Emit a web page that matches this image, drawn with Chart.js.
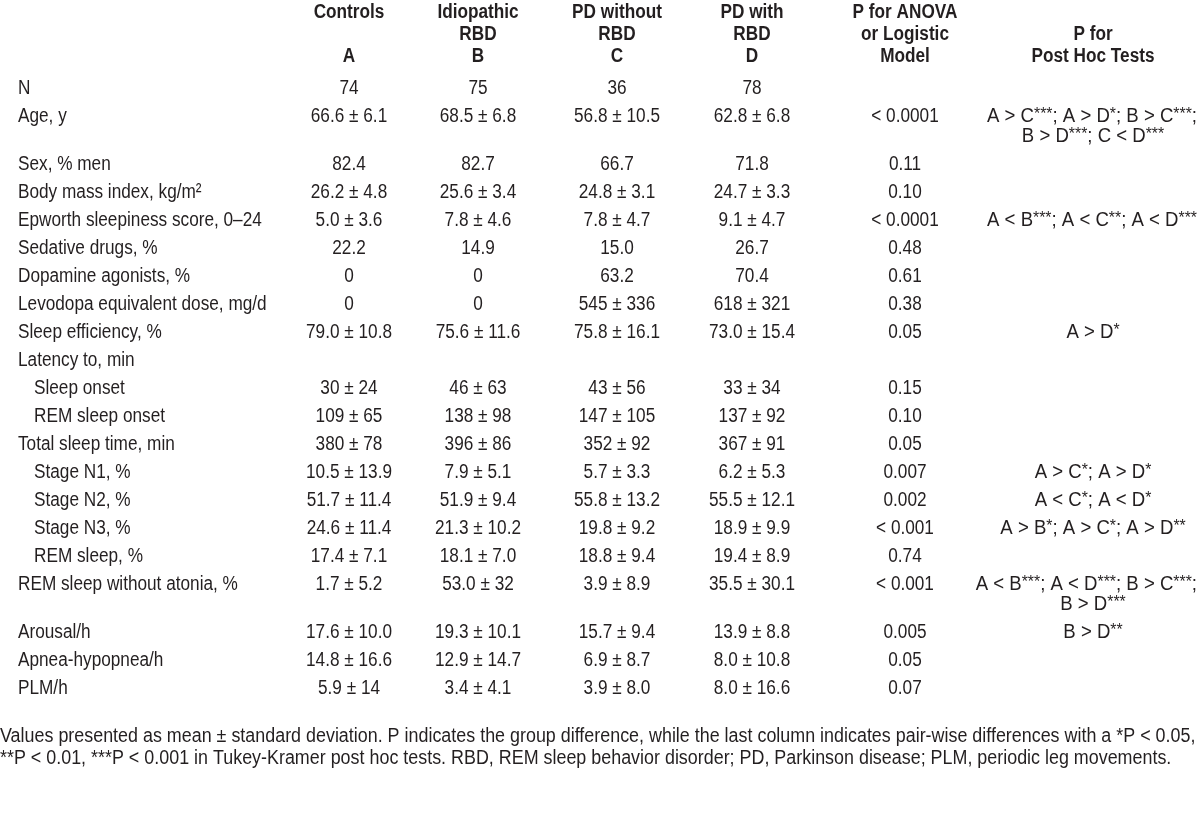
<!DOCTYPE html>
<html>
<head>
<meta charset="utf-8">
<script src="https://cdn.jsdelivr.net/npm/chart.js@4.4.1/dist/chart.umd.min.js"></script>
<style>
html,body{margin:0;padding:0;background:#fff;}
#wrap{width:1200px;height:816px;}
</style>
</head>
<body>
<div id="wrap"><canvas id="c" width="1200" height="816"></canvas></div>
<script>
// ---------------- DATA ----------------
const headerLines = [
  ["Controls", "", "A"],
  ["Idiopathic", "RBD", "B"],
  ["PD without", "RBD", "C"],
  ["PD with", "RBD", "D"],
  ["P for ANOVA", "or Logistic", "Model"],
  ["", "P for", "Post Hoc Tests"]
];
const rowLabels = [
  "N", "Age, y", "Sex, % men", "Body mass index, kg/m\u00B2", "Epworth sleepiness score, 0\u201324",
  "Sedative drugs, %", "Dopamine agonists, %", "Levodopa equivalent dose, mg/d", "Sleep efficiency, %",
  "Latency to, min", "Sleep onset", "REM sleep onset", "Total sleep time, min",
  "Stage N1, %", "Stage N2, %", "Stage N3, %", "REM sleep, %",
  "REM sleep without atonia, %", "Arousal/h", "Apnea-hypopnea/h", "PLM/h"
];
const rowLevel = [0,0,0,0,0,0,0,0,0,0,1,1,0,1,1,1,1,0,0,0,0];
const controls = ["74","66.6 \u00B1 6.1","82.4","26.2 \u00B1 4.8","5.0 \u00B1 3.6","22.2","0","0","79.0 \u00B1 10.8","","30 \u00B1 24","109 \u00B1 65","380 \u00B1 78","10.5 \u00B1 13.9","51.7 \u00B1 11.4","24.6 \u00B1 11.4","17.4 \u00B1 7.1","1.7 \u00B1 5.2","17.6 \u00B1 10.0","14.8 \u00B1 16.6","5.9 \u00B1 14"];
const idiopathicRBD = ["75","68.5 \u00B1 6.8","82.7","25.6 \u00B1 3.4","7.8 \u00B1 4.6","14.9","0","0","75.6 \u00B1 11.6","","46 \u00B1 63","138 \u00B1 98","396 \u00B1 86","7.9 \u00B1 5.1","51.9 \u00B1 9.4","21.3 \u00B1 10.2","18.1 \u00B1 7.0","53.0 \u00B1 32","19.3 \u00B1 10.1","12.9 \u00B1 14.7","3.4 \u00B1 4.1"];
const pdWithoutRBD = ["36","56.8 \u00B1 10.5","66.7","24.8 \u00B1 3.1","7.8 \u00B1 4.7","15.0","63.2","545 \u00B1 336","75.8 \u00B1 16.1","","43 \u00B1 56","147 \u00B1 105","352 \u00B1 92","5.7 \u00B1 3.3","55.8 \u00B1 13.2","19.8 \u00B1 9.2","18.8 \u00B1 9.4","3.9 \u00B1 8.9","15.7 \u00B1 9.4","6.9 \u00B1 8.7","3.9 \u00B1 8.0"];
const pdWithRBD = ["78","62.8 \u00B1 6.8","71.8","24.7 \u00B1 3.3","9.1 \u00B1 4.7","26.7","70.4","618 \u00B1 321","73.0 \u00B1 15.4","","33 \u00B1 34","137 \u00B1 92","367 \u00B1 91","6.2 \u00B1 5.3","55.5 \u00B1 12.1","18.9 \u00B1 9.9","19.4 \u00B1 8.9","35.5 \u00B1 30.1","13.9 \u00B1 8.8","8.0 \u00B1 10.8","8.0 \u00B1 16.6"];
const pAnova = ["","< 0.0001","0.11","0.10","< 0.0001","0.48","0.61","0.38","0.05","","0.15","0.10","0.05","0.007","0.002","< 0.001","0.74","< 0.001","0.005","0.05","0.07"];
const postHoc = [
  [], ["A > C***; A > D*; B > C***;", "B > D***; C < D***"], [], [],
  ["A < B***; A < C**; A < D***"], [], [], [], ["A > D*"], [], [], [], [],
  ["A > C*; A > D*"], ["A < C*; A < D*"], ["A > B*; A > C*; A > D**"], [],
  ["A < B***; A < D***; B > C***;", "B > D***"], ["B > D**"], [], []
];
const footnote = [
  "Values presented as mean \u00B1 standard deviation. P indicates the group difference, while the last column indicates pair-wise differences with a *P < 0.05,",
  "**P < 0.01, ***P < 0.001 in Tukey-Kramer post hoc tests. RBD, REM sleep behavior disorder; PD, Parkinson disease; PLM, periodic leg movements."
];

// ---------------- LAYOUT ----------------
const COL_X = [349, 478, 617, 752, 905, 1093];
const LABEL_X = 18, INDENT = 16;
const HEAD_Y = [12, 34, 56];
const ROW_TOP = 88, ROW_PITCH = 28, EXTRA_LINE = 20;
const FOOT_Y = [736, 758];
const FAMILY = '"Liberation Sans", Arial, sans-serif';
const FS = 20, SX = 0.86, PH_SX = 0.93, FOOT_SX = 0.895, COLOR = '#231f20';

const rowY = [];
{
  let y = ROW_TOP;
  for (let i = 0; i < rowLabels.length; i++) {
    rowY.push(y);
    const n = Math.max(1, postHoc[i].length);
    y += ROW_PITCH + (n - 1) * EXTRA_LINE;
  }
}

const valueCols = [controls, idiopathicRBD, pdWithoutRBD, pdWithRBD, pAnova];
const datasets = [];
const headPts = [];
headerLines.forEach((lines, c) => lines.forEach((t, l) => { if (t) headPts.push({x: COL_X[c], y: HEAD_Y[l], t}); }));
datasets.push({label: 'header', data: headPts, kind: 'header'});
datasets.push({label: 'labels', data: rowLabels.map((t, i) => ({x: LABEL_X + rowLevel[i] * INDENT, y: rowY[i], t})), kind: 'label'});
valueCols.forEach((col, c) => {
  datasets.push({label: 'col' + c, data: col.map((t, i) => ({x: COL_X[c], y: rowY[i], t})).filter(p => p.t), kind: 'value'});
});
const phPts = [];
postHoc.forEach((lines, i) => lines.forEach((t, l) => phPts.push({x: COL_X[5], y: rowY[i] + l * EXTRA_LINE, t})));
datasets.push({label: 'posthoc', data: phPts, kind: 'posthoc'});
datasets.push({label: 'foot', data: footnote.map((t, i) => ({x: 0, y: FOOT_Y[i], t})), kind: 'foot'});

datasets.forEach(d => { d.pointRadius = 0; d.pointHoverRadius = 0; d.showLine = false; });

function segments(text, sup) {
  if (!sup) return [{t: text, sup: false}];
  const out = [];
  text.split(/(\*+)/).forEach(s => { if (s) out.push({t: s, sup: /^\*+$/.test(s)}); });
  return out;
}

function drawRich(ctx, text, x, y, align, weight, size, sx, sup) {
  const segs = segments(text, sup);
  const fN = weight + ' ' + size + 'px ' + FAMILY;
  const fS = weight + ' ' + Math.round(size * 0.85) + 'px ' + FAMILY;
  let w = 0;
  segs.forEach(s => { ctx.font = s.sup ? fS : fN; s.w = ctx.measureText(s.t).width; w += s.w; });
  const tw = w * sx;
  let left = x;
  if (align === 'center') left = x - tw / 2;
  if (left + tw > 1197) left = 1197 - tw;
  ctx.save();
  ctx.translate(left, y);
  ctx.scale(sx, 1);
  ctx.textAlign = 'left';
  ctx.textBaseline = 'middle';
  ctx.fillStyle = COLOR;
  let cx = 0;
  segs.forEach(s => {
    ctx.font = s.sup ? fS : fN;
    ctx.fillText(s.t, cx, s.sup ? -2 : 0);
    cx += s.w;
  });
  ctx.restore();
}

const tablePlugin = {
  id: 'tableText',
  afterDatasetsDraw(chart) {
    const ctx = chart.ctx;
    chart.data.datasets.forEach((ds, di) => {
      const meta = chart.getDatasetMeta(di);
      meta.data.forEach((el, i) => {
        const t = ds.data[i].t;
        if (ds.kind === 'header') drawRich(ctx, t, el.x, el.y, 'center', 'bold', FS, SX, false);
        else if (ds.kind === 'label') drawRich(ctx, t, el.x, el.y, 'left', 'normal', FS, SX, false);
        else if (ds.kind === 'value') drawRich(ctx, t, el.x, el.y, 'center', 'normal', FS, SX, false);
        else if (ds.kind === 'posthoc') drawRich(ctx, t, el.x, el.y, 'center', 'normal', FS, PH_SX, true);
        else if (ds.kind === 'foot') drawRich(ctx, t, el.x, el.y, 'left', 'normal', FS, FOOT_SX, false);
      });
    });
  }
};

new Chart(document.getElementById('c'), {
  type: 'scatter',
  data: {datasets},
  options: {
    responsive: false,
    animation: false,
    devicePixelRatio: 1,
    layout: {padding: 0},
    plugins: {legend: {display: false}, tooltip: {enabled: false}},
    events: [],
    scales: {
      x: {type: 'linear', display: false, min: 0, max: 1200},
      y: {type: 'linear', display: false, min: 0, max: 816, reverse: true}
    }
  },
  plugins: [tablePlugin]
});
</script>
</body>
</html>
